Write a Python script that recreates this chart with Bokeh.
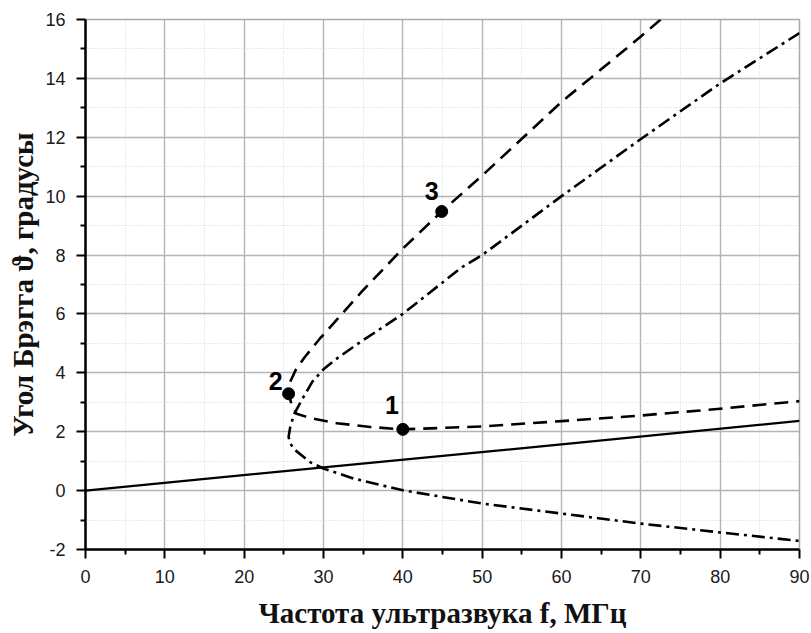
from bokeh.plotting import figure
from bokeh.models import Range1d, FixedTicker
from bokeh.embed import file_html
from bokeh.resources import INLINE
from bokeh.core.properties import value

# ---- data ----
x_ticks = [0, 10, 20, 30, 40, 50, 60, 70, 80, 90]
x_minor = [5, 15, 25, 35, 45, 55, 65, 75, 85]
x_tick_labels = ["0", "10", "20", "30", "40", "50", "60", "70", "80", "90"]
y_ticks = [-2, 0, 2, 4, 6, 8, 10, 12, 14, 16]
y_minor = [-1, 1, 3, 5, 7, 9, 11, 13, 15]
y_tick_labels = ["-2", "0", "2", "4", "6", "8", "10", "12", "14", "16"]

# solid line
line_f = [0.0, 30.0, 60.0, 90.0]
line_theta = [0.0, 0.79, 1.57, 2.37]

# dashed curve (through points 3, 2, 1)
dash_f = [72.5, 70.0, 63.6, 60.0, 55.2, 50.0, 44.9, 40.0, 34.9, 32.5, 29.5, 27.6,
          26.5, 25.85, 25.6, 26.0, 26.6, 27.9, 28.8, 31.7, 35.9, 40.0,
          50.0, 60.0, 70.0, 80.0, 90.0]
dash_theta = [16.0, 15.42, 14.0, 13.2, 12.0, 10.7, 9.48, 8.22, 6.78, 6.05, 5.15, 4.52,
              4.1, 3.72, 3.29, 2.9, 2.61, 2.5, 2.44, 2.29, 2.16, 2.08,
              2.18, 2.36, 2.55, 2.78, 3.04]

# dash-dot curve
dd_f = [90.0, 80.0, 70.0, 60.0, 50.0, 47.3, 40.0, 34.4, 31.5, 30.0, 28.6, 27.2,
        26.3, 25.8, 25.6, 25.8, 26.45, 28.3, 30.0, 33.8, 40.0, 50.0, 60.0, 70.0,
        80.0, 90.0]
dd_theta = [15.54, 13.83, 11.94, 10.0, 8.0, 7.56, 6.0, 5.0, 4.45, 4.12, 3.7, 3.05,
            2.6, 2.15, 1.82, 1.6, 1.37, 0.97, 0.75, 0.41, 0.01, -0.44, -0.78, -1.12,
            -1.42, -1.71]

# marked points
point_f = [40.0, 25.6, 44.9]
point_theta = [2.08, 3.29, 9.48]
point_labels = ["1", "2", "3"]

# ---- styling / layout ----
label_dx = [-11, -13, -10]
label_dy = [-24, -13, -20]

p = figure(width=811, height=633, x_range=Range1d(0, 90), y_range=Range1d(-2, 16),
           output_backend="svg", toolbar_location=None,
           min_border_left=85, min_border_right=12, min_border_top=19, min_border_bottom=84)
p.background_fill_color = "white"
p.border_fill_color = "white"
p.outline_line_color = "#a8a8a8"
p.outline_line_width = 1.5

p.xaxis.ticker = FixedTicker(ticks=x_ticks, minor_ticks=x_minor)
p.yaxis.ticker = FixedTicker(ticks=y_ticks, minor_ticks=y_minor)
p.xaxis.major_label_overrides = {t: l for t, l in zip(x_ticks, x_tick_labels)}
p.yaxis.major_label_overrides = {t: l for t, l in zip(y_ticks, y_tick_labels)}

for ax in (p.xaxis, p.yaxis):
    ax.axis_line_width = 2.5
    ax.axis_line_color = "black"
    ax.major_tick_line_width = 2
    ax.major_tick_line_color = "black"
    ax.minor_tick_line_width = 2
    ax.minor_tick_line_color = "black"
    ax.major_tick_out = 9
    ax.major_tick_in = 0
    ax.minor_tick_out = 5
    ax.minor_tick_in = 0
    ax.major_label_text_font = "Liberation Sans"
    ax.major_label_text_font_size = "18px"
    ax.major_label_text_color = "#1a1a1a"
    ax.axis_label_text_font = "Liberation Serif"
    ax.axis_label_text_font_style = "bold"
    ax.axis_label_text_font_size = "29px"
    ax.axis_label_text_color = "#111111"

p.xaxis.major_label_standoff = 11
p.yaxis.major_label_standoff = 11
p.xaxis.axis_label = "Частота ультразвука f, МГц"
p.yaxis.axis_label = "Угол Брэгга ϑ, градусы"
p.xaxis.axis_label_standoff = 11
p.yaxis.axis_label_standoff = 3

for g in (p.xgrid, p.ygrid):
    g.grid_line_color = "#b4b4b4"
    g.grid_line_width = 1.4
    g.minor_grid_line_color = "#d2d2d2"
    g.minor_grid_line_width = 1
    g.minor_grid_line_dash = "1 2"

p.line(line_f, line_theta, line_color="black", line_width=2.3)
p.line(dash_f, dash_theta, line_color="black", line_width=2.6, line_dash="14 8",
       line_join="round")
p.line(dd_f, dd_theta, line_color="black", line_width=2.6, line_dash="13 5 3 5",
       line_join="round")
p.scatter(point_f, point_theta, size=12, marker="circle", fill_color="black",
          line_color="black")
p.text(point_f, point_theta, text=point_labels, x_offset=label_dx, y_offset=label_dy,
       text_font=value("Liberation Sans"), text_font_style="bold", text_font_size="25px",
       text_align="center", text_baseline="middle", text_color="black")

open("out.html", "w").write(file_html(p, INLINE))
